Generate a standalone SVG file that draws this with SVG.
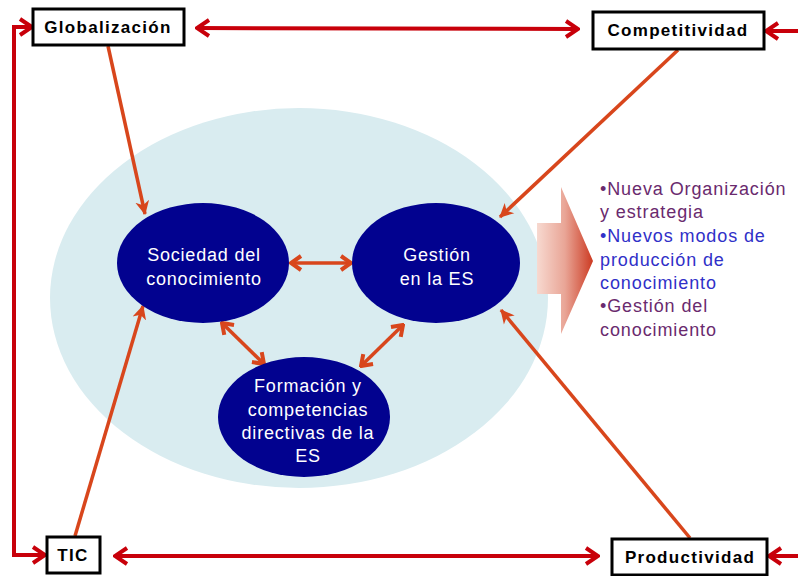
<svg xmlns="http://www.w3.org/2000/svg" width="798" height="576" viewBox="0 0 798 576">
<style>
.box{fill:#fff;stroke:#000;stroke-width:3}
.bt{font-family:"Liberation Sans",Arial,sans-serif;font-weight:bold;font-size:17px;letter-spacing:1.3px;fill:#000;text-anchor:middle}
.node{fill:#02028f}
.nt{font-family:"Liberation Sans",Arial,sans-serif;font-size:18px;letter-spacing:0.8px;fill:#fff;text-anchor:middle}
.red{stroke:#c8000a;stroke-width:4;fill:none}
.org{stroke:#d8461c;stroke-width:3.5;fill:none}
.lt{font-family:"Liberation Sans",Arial,sans-serif;font-size:18px;letter-spacing:0.9px}
.pu{fill:#6a2a6e}
.bl{fill:#3030c8}
</style>
<defs>
<marker id="rh" viewBox="0 0 16 20" refX="14" refY="10" markerWidth="16" markerHeight="20" markerUnits="userSpaceOnUse" orient="auto-start-reverse">
<path d="M2,2 L14,10 L2,18" fill="none" stroke="#c8000a" stroke-width="4" stroke-linejoin="miter"/>
</marker>
<marker id="oh" viewBox="0 0 14 18" refX="12" refY="9" markerWidth="14" markerHeight="18" markerUnits="userSpaceOnUse" orient="auto-start-reverse">
<path d="M2,2 L12,9 L2,16" fill="none" stroke="#d8461c" stroke-width="4"/>
</marker>
<marker id="of" viewBox="0 0 14 16" refX="13" refY="8" markerWidth="14" markerHeight="16" markerUnits="userSpaceOnUse" orient="auto">
<path d="M0,1 L14,8 L0,15 L4,8 Z" fill="#d8461c"/>
</marker>
<linearGradient id="ag" x1="0" y1="0" x2="1" y2="0">
<stop offset="0" stop-color="#f7d9d0"/>
<stop offset="0.5" stop-color="#e9a596"/>
<stop offset="1" stop-color="#cc3a22"/>
</linearGradient>
</defs>

<ellipse cx="299" cy="298" rx="249" ry="190" fill="#d9ecf0"/>

<g id="connectors">
<line class="red" x1="197" y1="28" x2="578" y2="29" marker-start="url(#rh)" marker-end="url(#rh)"/>
<polyline class="red" points="32,27 14,27 14,555 45,555" marker-start="url(#rh)" marker-end="url(#rh)"/>
<line class="red" x1="115" y1="556" x2="598" y2="556" marker-start="url(#rh)" marker-end="url(#rh)"/>
<line class="red" x1="798" y1="31" x2="766" y2="31" marker-end="url(#rh)"/>
<line class="red" x1="798" y1="556" x2="769" y2="556" marker-end="url(#rh)"/>
<line class="org" x1="108" y1="46" x2="145" y2="214" marker-end="url(#of)"/>
<line class="org" x1="678" y1="50" x2="500" y2="217" marker-end="url(#of)"/>
<line class="org" x1="75" y1="536" x2="143" y2="306" marker-end="url(#of)"/>
<line class="org" x1="690" y1="538" x2="501" y2="310" marker-end="url(#of)"/>
<line class="org" x1="291" y1="263" x2="351" y2="263" marker-start="url(#oh)" marker-end="url(#oh)"/>
<line class="org" x1="222" y1="323" x2="264" y2="364" marker-start="url(#oh)" marker-end="url(#oh)"/>
<line class="org" x1="403" y1="325" x2="361" y2="366" marker-start="url(#oh)" marker-end="url(#oh)"/>
</g>

<g id="globalizacion"><rect class="box" x="33" y="9" width="151" height="36"/><text class="bt" x="108" y="33">Globalización</text></g>
<g id="competitividad"><rect class="box" x="593" y="12" width="171" height="37"/><text class="bt" x="678" y="36">Competitividad</text></g>
<g id="tic"><rect class="box" x="47" y="537" width="53" height="36"/><text class="bt" x="73" y="561">TIC</text></g>
<g id="productividad"><rect class="box" x="612" y="539" width="155" height="36"/><text class="bt" x="690" y="563">Productividad</text></g>

<g id="sociedad"><ellipse class="node" cx="203" cy="263" rx="86" ry="60"/><text class="nt" x="204" y="261">Sociedad del</text><text class="nt" x="204" y="285">conocimiento</text></g>
<g id="gestion"><ellipse class="node" cx="436" cy="263" rx="84" ry="60"/><text class="nt" x="437" y="261">Gestión</text><text class="nt" x="437" y="285">en la ES</text></g>
<g id="formacion"><ellipse class="node" cx="304" cy="417" rx="86" ry="60"/><text class="nt" x="308" y="392">Formación y</text><text class="nt" x="308" y="416">competencias</text><text class="nt" x="308" y="439">directivas de la</text><text class="nt" x="308" y="462">ES</text></g>

<g id="bigarrow"><path d="M537,223 L561,223 L561,187 L593,261 L561,334 L561,294 L537,294 Z" fill="url(#ag)"/></g>

<g id="list" class="lt">
<text class="pu" x="600" y="195">•Nueva Organización</text>
<text class="pu" x="600" y="218">y estrategia</text>
<text class="bl" x="600" y="242">•Nuevos modos de</text>
<text class="bl" x="600" y="266">producción de</text>
<text class="bl" x="600" y="289">conocimiento</text>
<text class="pu" x="600" y="312">•Gestión del</text>
<text class="pu" x="600" y="336">conocimiento</text>
</g>
</svg>
